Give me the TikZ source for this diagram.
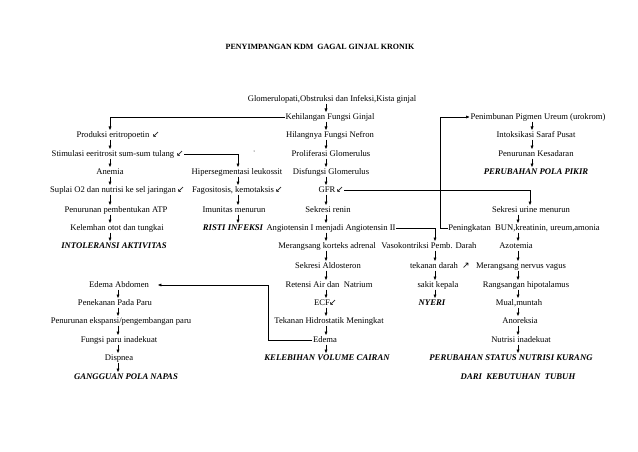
\documentclass[tikz,border=0pt]{standalone}
\usepackage{fontspec}
\setmainfont{Liberation Serif}
\newfontfamily\symf{DejaVu Sans}
\usetikzlibrary{arrows.meta}
\begin{document}
\begin{tikzpicture}[x=1pt,y=-1pt,
 every node/.style={inner sep=0.5pt, text height=6.2pt, text depth=1.8pt, font=\fontsize{8.6}{10}\selectfont},
 dx/.style={font=\fontsize{8.7}{10}\selectfont\bfseries\itshape},
 ttl/.style={font=\fontsize{8}{10}\selectfont\bfseries},
 sym/.style={font=\fontsize{9}{10}\symf},
 arr/.style={-{Latex[length=3.8pt,width=3.2pt]}, line width=0.65pt},
 ln/.style={line width=0.65pt}]
\fill[white] (0,0) rectangle (638,452);
\useasboundingbox (0,0) rectangle (638,452);
% column coordinates
\coordinate (cA) at (110,0);
\coordinate (cA2) at (118,0);
\coordinate (cB) at (238,0);
\coordinate (cC) at (326,0);
\coordinate (cD) at (435,0);
\coordinate (cE) at (532,0);
\coordinate (cE2) at (518,0);
\coordinate (cG) at (530,0);
\coordinate (cBUN) at (440,0);
\coordinate (cEd) at (268,0);
% title
\node[ttl] (title) at (320,47) {PENYIMPANGAN KDM\ \ GAGAL GINJAL KRONIK};
% centre column
\node (glom) at (332,99) {Glomerulopati,Obstruksi dan Infeksi,Kista ginjal};
\node (keh) at (330,117) {Kehilangan Fungsi Ginjal};
\node (hil) at (330,135) {Hilangnya Fungsi Nefron};
\node (prol) at (331,154) {Proliferasi Glomerulus};
\node (disf) at (331,172) {Disfungsi Glomerulus};
\node (gfr) at (327,190) {GFR};
\node[sym] (gfrg) at (340,190) {↙};
\node (renin) at (328,210) {Sekresi renin};
\node (angio) at (331,228) {Angiotensin I menjadi Angiotensin II};
\node (korteks) at (327,246) {Merangsang korteks adrenal};
\node (aldo) at (328,266) {Sekresi Aldosteron};
\node (retensi) at (329,285) {Retensi Air dan\ \ Natrium};
\node (ecf) at (322,303) {ECF};
\node[sym] (ecfg) at (333,303) {↙};
\node (hidro) at (329,321) {Tekanan Hidrostatik Meningkat};
\node (edema) at (325,340) {Edema};
\node[dx] (lebih) at (327,358) {KELEBIHAN VOLUME CAIRAN};
% left column
\node (prod) at (113,135) {Produksi eritropoetin};
\node[sym] (prodg) at (156,135) {↙};
\node (stim) at (113,154) {Stimulasi eeritrosit sum-sum tulang};
\node[sym] (stimg) at (180,154) {↙};
\node (anemia) at (110,172) {Anemia};
\node (suplai) at (113,190) {Suplai O2 dan nutrisi ke sel jaringan};
\node[sym] (suplaig) at (181,190) {↙};
\node (atp) at (116,210) {Penurunan pembentukan ATP};
\node (lemah) at (117,228) {Kelemhan otot dan tungkai};
\node[dx] (intol) at (114,246) {INTOLERANSI AKTIVITAS};
% lower left column
\node (edab) at (119,285) {Edema Abdomen};
\node (tekan) at (115,303) {Penekanan Pada Paru};
\node (eksp) at (121,321) {Penurunan ekspansi/pengembangan paru};
\node (fparu) at (119,340) {Fungsi paru inadekuat};
\node (disp) at (119,358) {Dispnea};
\node[dx] (ggn) at (126,377) {GANGGUAN POLA NAPAS};
% column B
\node (hiper) at (237,172) {Hipersegmentasi leukossit};
\node (fago) at (233,190) {Fagositosis, kemotaksis};
\node[sym] (fagog) at (279,190) {↙};
\node (imun) at (234,210) {Imunitas menurun};
\node[dx] (risti) at (233,228) {RISTI INFEKSI};
% column D
\node (vaso) at (429,246) {Vasokontriksi Pemb. Darah};
\node (td) at (434,266) {tekanan darah};
\node[sym] (tdg) at (466,266) {↗};
\node (sakit) at (438,285) {sakit kepala};
\node[dx] (nyeri) at (432,303) {NYERI};
% column E
\node (penim) at (538,117) {Penimbunan Pigmen Ureum (urokrom)};
\node (intok) at (536,135) {Intoksikasi Saraf Pusat};
\node (sadar) at (536,154) {Penurunan Kesadaran};
\node[dx] (pikir) at (536,172) {PERUBAHAN POLA PIKIR};
\node (urine) at (531,210) {Sekresi urine menurun};
\node (bun) at (524,228) {Peningkatan\ \ BUN,kreatinin, ureum,amonia};
\node (azot) at (516,246) {Azotemia};
\node (vagus) at (521,266) {Merangsang nervus vagus};
\node (hipot) at (526,285) {Rangsangan hipotalamus};
\node (mual) at (519,303) {Mual,muntah};
\node (anor) at (520,321) {Anoreksia};
\node (nutri) at (521,340) {Nutrisi inadekuat};
\node[dx] (status) at (511,358) {PERUBAHAN STATUS NUTRISI KURANG};
\node[dx] (dari) at (518,377) {DARI\ \ KEBUTUHAN\ \ TUBUH};
% vertical arrows
\foreach \a/\b in {glom/keh,keh/hil,hil/prol,prol/disf,disf/gfr,gfr/renin,renin/angio,angio/korteks,korteks/aldo,aldo/retensi,retensi/ecf,ecf/hidro,hidro/edema,edema/lebih}
  \draw[arr] (\a.south -| cC) -- (\b.north -| cC);
\foreach \a/\b in {prod/stim,stim/anemia,anemia/suplai,suplai/atp,atp/lemah,lemah/intol}
  \draw[arr] (\a.south -| cA) -- (\b.north -| cA);
\foreach \a/\b in {edab/tekan,tekan/eksp,eksp/fparu,fparu/disp,disp/ggn}
  \draw[arr] (\a.south -| cA2) -- (\b.north -| cA2);
\foreach \a/\b in {hiper/fago,fago/imun,imun/risti}
  \draw[arr] (\a.south -| cB) -- (\b.north -| cB);
\foreach \a/\b in {vaso/td,td/sakit,sakit/nyeri}
  \draw[arr] (\a.south -| cD) -- (\b.north -| cD);
\foreach \a/\b in {penim/intok,intok/sadar,sadar/pikir}
  \draw[arr] (\a.south -| cE) -- (\b.north -| cE);
\foreach \a/\b in {urine/bun,bun/azot,azot/vagus,vagus/hipot,hipot/mual,mual/anor,anor/nutri,nutri/status}
  \draw[arr] (\a.south -| cE2) -- (\b.north -| cE2);
% branch connectors
\draw[arr] (keh.west) -| (prod.north -| cA);
\draw[arr] (stimg.east) -| (hiper.north -| cB);
\draw[arr] (gfrg.east) -| (urine.north -| cG);
\draw[arr] (angio.east) -| (vaso.north -| cD);
\draw[arr] (bun.west) -| (penim.west -| cBUN) -- (penim.west);
\draw[arr] (edema.west) -| (edab.east -| cEd) -- ([xshift=8pt]edab.east);
% stray dot
\fill (254,151) circle (0.5pt);
\end{tikzpicture}
\end{document}
